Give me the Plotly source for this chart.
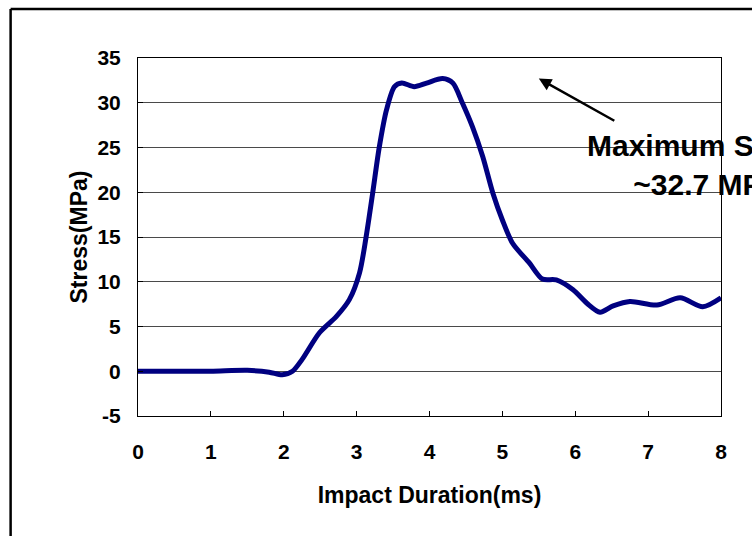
import plotly.graph_objects as go

# Data
time_ms = [0, 0.5, 1.0, 1.5, 1.8, 1.98, 2.12, 2.25, 2.49, 2.72, 2.9, 3.04, 3.13, 3.22,
           3.31, 3.41, 3.52, 3.62, 3.79, 3.96, 4.18, 4.32, 4.45, 4.59, 4.73, 4.87, 5.0,
           5.14, 5.37, 5.55, 5.74, 5.97, 6.16, 6.34, 6.52, 6.75, 7.12, 7.44, 7.75, 8.0]
stress_mpa = [0, 0, 0, 0.1, -0.1, -0.4, 0, 1.3, 4.3, 6.1, 8.0, 11, 15, 19.9,
              25, 29.2, 31.8, 32.2, 31.8, 32.2, 32.7, 32.2, 30, 27.3, 24, 19.9, 16.9,
              14.3, 12.1, 10.3, 10.2, 9.1, 7.6, 6.6, 7.3, 7.8, 7.4, 8.2, 7.2, 8.2]
x_ticks = [0, 1, 2, 3, 4, 5, 6, 7, 8]
y_ticks = [-5, 0, 5, 10, 15, 20, 25, 30, 35]
peak_point = (5.5, 32.7)
label_pos = (7.79, 23.1)
label_text = "Maximum Stress<br>~32.7 MPa"

FONT = "Liberation Sans, Arial, sans-serif"

fig = go.Figure()
fig.add_trace(go.Scatter(
    x=time_ms, y=stress_mpa, mode="lines",
    line=dict(color="#000080", width=5, shape="spline", smoothing=0.8),
    showlegend=False, hoverinfo="skip",
))

fig.update_layout(
    width=752, height=536,
    margin=dict(l=138, r=31, t=58, b=120),
    paper_bgcolor="white", plot_bgcolor="white",
    font=dict(family=FONT, color="black", size=21, weight="bold"),
    xaxis=dict(
        range=[0, 8], tickvals=x_ticks, ticktext=[str(v) for v in x_ticks],
        showgrid=False, zeroline=False,
        showline=True, linecolor="black", linewidth=1, mirror=True,
        ticks="inside", ticklen=5, tickcolor="black",
        ticklabelstandoff=17,
        tickfont=dict(family=FONT, size=21, weight="bold"),
        title=dict(text="Impact Duration(ms)", standoff=24,
                   font=dict(family=FONT, size=23, weight="bold")),
    ),
    yaxis=dict(
        range=[-5, 35], tickvals=y_ticks, ticktext=[str(v) for v in y_ticks],
        showgrid=True, gridcolor="#4a4a4a", gridwidth=1, zeroline=False,
        showline=True, linecolor="black", linewidth=1, mirror=True,
        ticks="inside", ticklen=5, tickcolor="black",
        ticklabelstandoff=12,
        tickfont=dict(family=FONT, size=21, weight="bold"),
        title=dict(text="Stress(MPa)", standoff=3,
                   font=dict(family=FONT, size=23, weight="bold")),
    ),
    shapes=[
        dict(type="line", xref="paper", yref="paper", x0=-0.2185, x1=-0.2185,
             y0=-0.5, y1=1.1369, line=dict(color="black", width=2.5)),
        dict(type="line", xref="paper", yref="paper", x0=-0.2185, x1=1.3,
             y0=1.1369, y1=1.1369, line=dict(color="black", width=2.5)),
    ],
    annotations=[
        dict(x=peak_point[0], y=peak_point[1], xref="x", yref="y",
             ax=77, ay=43, showarrow=True, arrowhead=2, arrowsize=1,
             arrowwidth=2.5, arrowcolor="black", text=""),
        dict(x=label_pos[0], y=label_pos[1], xref="x", yref="y",
             text=label_text, showarrow=False, xanchor="center", yanchor="middle",
             align="center",
             font=dict(family=FONT, size=30, weight="bold", color="black")),
    ],
)

fig.write_html("out.html")
